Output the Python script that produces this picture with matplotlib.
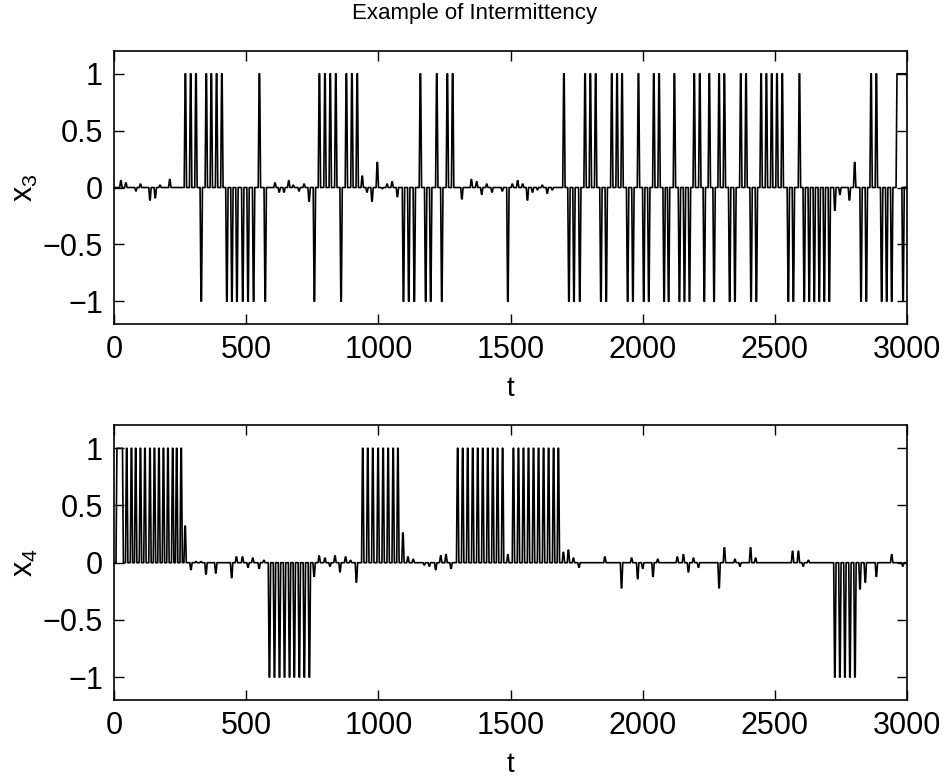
import numpy as np
import matplotlib
matplotlib.use("Agg")
from matplotlib import pyplot as plt

plt.rcParams['font.family'] = ['Liberation Sans', 'DejaVu Sans']
plt.rcParams['mathtext.fontset'] = 'custom'
plt.rcParams['mathtext.rm'] = 'Liberation Sans'
plt.rcParams['mathtext.it'] = 'Liberation Sans:italic'

# x3: spike times
x3_up = [270, 290, 310, 349, 368, 388, 408, 550, 777, 798, 818, 839, 879, 900,
         920, 1159, 1221, 1261, 1281, 1702, 1782, 1802, 1822, 1883, 1903, 1922,
         1984, 2042, 2062, 2120, 2195, 2216, 2252, 2289, 2309, 2371, 2391, 2448,
         2468, 2488, 2508, 2528, 2593, 2864, 2884]
x3_down = [330, 427, 446, 465, 487, 507, 528, 572, 758, 859, 1095, 1115, 1136,
           1179, 1198, 1240, 1490, 1721, 1740, 1762, 1842, 1862, 1943, 1963,
           2004, 2023, 2081, 2098, 2139, 2158, 2177, 2233, 2270, 2329, 2349,
           2410, 2430, 2551, 2570, 2611, 2630, 2649, 2668, 2687, 2706, 2826,
           2846, 2904, 2923, 2942, 2985]
x3_small_t = [26, 45, 83, 100, 136, 156, 174, 211, 609, 625, 643, 661, 678, 700,
              719, 738, 939, 957, 976, 996, 1015, 1033, 1052, 1072, 1316, 1352,
              1372, 1391, 1410, 1430, 1469, 1507, 1527, 1546, 1564, 1583, 1602,
              1620, 1639, 1658, 2727, 2746, 2782, 2802]
x3_small_a = [0.06, 0.04, -0.03, 0.03, -0.11, -0.09, 0.02, 0.07, 0.04, -0.04,
              -0.04, 0.06, 0.02, -0.03, 0.03, -0.12, 0.1, -0.04, -0.12, 0.22,
              -0.01, 0.03, 0.05, -0.08, -0.1, 0.07, 0.05, -0.06, 0.03, -0.04,
              -0.03, 0.03, 0.06, 0.03, -0.11, -0.04, -0.02, 0.02, -0.05, -0.02,
              -0.2, -0.06, -0.11, 0.22]
x3_plateau = [(2963, 3000, 1.0)]

# x4
x4_up = [48, 66, 82, 100, 117, 136, 153, 170, 187, 204, 222, 237, 254, 941, 960,
         979, 999, 1018, 1037, 1056, 1074, 1300, 1319, 1338, 1357, 1376, 1395,
         1414, 1433, 1451, 1470, 1511, 1530, 1549, 1568, 1587, 1606, 1625, 1644,
         1663, 1681]
x4_down = [588, 607, 626, 645, 664, 682, 701, 720, 739, 2727, 2746, 2765, 2784,
           2803]
x4_small_t = [269, 291, 310, 329, 348, 385, 445, 463, 486, 507, 525, 549, 567,
              757, 776, 798, 817, 836, 855, 876, 895, 917, 1093, 1112, 1132,
              1174, 1193, 1217, 1236, 1256, 1275, 1490, 1700, 1719, 1738, 1759,
              1857, 1920, 1958, 1981, 2000, 2039, 2057, 2131, 2154, 2173, 2192,
              2211, 2289, 2309, 2349, 2368, 2408, 2427, 2567, 2589, 2607, 2627,
              2822, 2842, 2884, 2942, 2984]
x4_small_a = [0.32, -0.06, 0.01, 0.01, -0.1, -0.09, -0.13, 0.05, 0.05, -0.04,
              0.04, -0.05, 0.02, -0.12, 0.06, 0.04, -0.03, 0.06, -0.08, 0.05,
              0.02, -0.17, 0.26, 0.05, 0.03, -0.02, -0.03, -0.06, 0.06, 0.07,
              -0.05, 0.07, 0.09, 0.11, 0.04, -0.04, 0.05, -0.22, 0.04, -0.14,
              -0.05, -0.12, 0.03, 0.05, 0.07, -0.08, 0.04, -0.04, -0.22, 0.13,
              0.03, -0.03, 0.13, 0.04, 0.1, 0.1, -0.03, 0.02, -0.23, -0.17,
              -0.12, 0.07, -0.03]
x4_plateau = [(12, 31, 1.0)]

T_END = 3000
W = 4.5  # half width of a spike, time units


def build_trace(up, down, small_t, small_a, plateaus):
    events = [(t, 1.0, t) for t in up] + [(t, -1.0, t) for t in down]
    events += [(t, a, t) for t, a in zip(small_t, small_a)]
    events += [(s, a, e) for s, e, a in plateaus]
    events.sort()
    tt, yy = [0.0], [0.0]
    for s, a, e in events:
        tt += [s - W, s - 1, e + 1, e + W]
        yy += [0.0, a, a, 0.0]
    tt.append(T_END + 10)
    yy.append(0.0)
    return np.array(tt), np.array(yy)


def style(ax, ylab):
    ax.set_xlim(0, 3000)
    ax.set_ylim(-1.2, 1.2)
    ax.set_xticks([0, 500, 1000, 1500, 2000, 2500, 3000])
    ax.set_yticks([-1, -0.5, 0, 0.5, 1])
    ax.set_yticklabels(['\u22121', '\u22120.5', '0', '0.5', '1'])
    ax.tick_params(direction='in', length=7, width=1, top=True, right=True,
                   labelsize=22, pad=8)
    for sp in ax.spines.values():
        sp.set_linewidth(1.2)
    ax.set_xlabel('t', fontsize=20, labelpad=8)
    ax.set_ylabel(ylab, fontsize=22, labelpad=2)


fig = plt.figure(figsize=(9.47, 7.8), dpi=100)
ax1 = fig.add_axes([0.1204, 0.5846, 0.8374, 0.35])
ax2 = fig.add_axes([0.1204, 0.1026, 0.8374, 0.352])

t3, y3 = build_trace(x3_up, x3_down, x3_small_t, x3_small_a, x3_plateau)
t4, y4 = build_trace(x4_up, x4_down, x4_small_t, x4_small_a, x4_plateau)

ax1.plot(t3, y3, color='black', linewidth=1.2)
ax2.plot(t4, y4, color='black', linewidth=1.2)

style(ax1, 'x$_3$')
style(ax2, 'x$_4$')
fig.text(475 / 947, 1 - 14 / 780, 'Example of Intermittency', fontsize=16,
         ha='center', va='center')

fig.savefig('out.png', dpi=100)
